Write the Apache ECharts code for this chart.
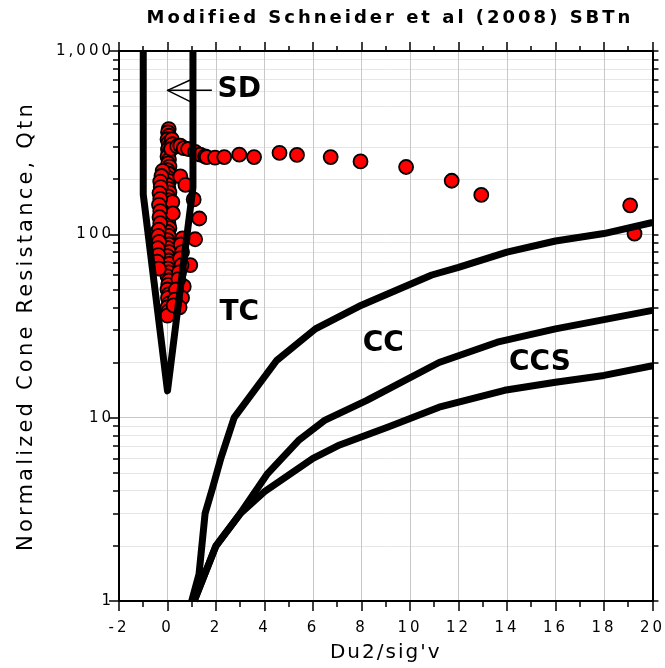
<!DOCTYPE html>
<html><head><meta charset="utf-8">
<script src="https://cdn.jsdelivr.net/npm/echarts@6/dist/echarts.min.js"></script>
<style>html,body{margin:0;padding:0;background:#fff}#c{width:665px;height:668px}</style>
</head><body><div id="c"></div>
<script>
// ---------- text ----------
const chartTitle = 'Modified Schneider et al (2008) SBTn';
const xName = "Du2/sig'v";
const yName = 'Normalized Cone Resistance, Qtn';

// ---------- axes ----------
const xMin = -2, xMax = 20, xStep = 2;
const yMin = 1, yMax = 1000;
const yMajorTicks = [1, 10, 100, 1000];
const yMinorTicks = [2, 3, 4, 5, 6, 7, 8, 9, 20, 30, 40, 50, 60, 70, 80, 90, 200, 300, 400, 500, 600, 700, 800, 900];

// ---------- data points (Du2/sig'v, Qtn) ----------
const pointsX = [
  0.05, 0.02, 0.06, 0.00, 0.04, 0.08, 0.02, 0.05, 0.00, 0.06, 0.03, 0.08, 0.00, 0.05, 0.02, 0.07, 0.00, 0.04, 0.08, 0.02,
  0.05, 0.00, 0.06, 0.03, 0.07, 0.00, 0.04, 0.08, 0.02, 0.05, 0.00, 0.06, 0.03, 0.07, 0.00, 0.04, 0.08, 0.02, 0.05, 0.00,
  0.06, 0.03, 0.00, 0.05, 0.02, 0.06, 0.00, 0.04, 0.00,
  0.18, 0.20, 0.15, 0.20, 0.22,
  -0.20, -0.25, -0.30, -0.28, -0.33, -0.30, -0.35, -0.30, -0.33, -0.30, -0.36, -0.38, -0.35, -0.40, -0.38, -0.42, -0.36,
  0.53, 0.74, 1.08, 1.31, 1.14, 0.94, 0.67, 0.60, 0.50, 0.62, 0.55, 0.60, 0.52, 0.58, 0.48, 0.45, 0.35, 0.30, 0.25,
  0.40, 0.53, 0.67, 0.85, 1.14, 1.35, 1.55, 1.62, 1.96, 2.34, 2.96, 3.57, 4.62, 5.34, 6.73, 7.96, 9.84, 11.72, 12.94, 19.08, 19.26
];
const pointsY = [
  375, 360, 345, 330, 316, 302, 290, 278, 266, 255, 244, 234, 224, 214, 204, 195, 186, 177, 169, 161,
  153, 146, 139, 132, 126, 120, 114, 108, 103, 98, 93, 88, 84, 80, 76, 72, 69, 65, 62, 59,
  56, 53, 50, 47, 45, 42, 40, 38, 36,
  330, 310, 292, 150, 130,
  222, 208, 194, 181, 168, 156, 145, 134, 124, 115, 106, 98, 91, 84, 77, 71, 65,
  207, 186, 155, 122, 94, 68, 52, 45, 40, 95, 88, 80, 74, 68, 62, 57, 50, 44, 41,
  302, 305, 295, 292, 282, 272, 266, 264, 262, 264, 272, 264, 278, 271, 264, 250, 233, 196, 164, 144, 101
];

// ---------- zone boundaries ----------
const sdX = [-1, -1, 0, 1.05, 1.05];
const sdY = [1000, 165, 14, 180, 1000];
const tcX = [1.0, 1.3, 1.55, 1.85, 2.2, 2.75, 4.5, 6.1, 7.9, 10.9, 12.0, 14.0, 16.0, 18.0, 20.0];
const tcY = [1.0, 1.4, 3.0, 4.1, 6.0, 10.0, 20.5, 30.5, 40.5, 60, 66, 80, 92, 101, 116];
const ccX = [1.1, 2.0, 3.0, 4.1, 5.4, 6.5, 8.2, 11.2, 13.6, 16.0, 20.0];
const ccY = [1.0, 2.0, 3.0, 4.9, 7.5, 9.7, 12.4, 20, 25.8, 30.5, 38.5];
const ccsX = [1.1, 2.0, 3.0, 4.0, 6.0, 7.1, 9.1, 11.2, 13.9, 16.0, 18.0, 20.0];
const ccsY = [1.0, 2.0, 3.0, 3.95, 6.0, 7.1, 8.9, 11.4, 14.1, 15.6, 17.0, 19.2];

// ---------- SD pointer arrow ----------
const arrowShaftX = [0, 1.83];
const arrowShaftY = [610, 610];
const arrowHeadX = [0.94, 0, 0.94];
const arrowHeadY = [695, 610, 530];

// ---------- zone labels ----------
const zoneNames = ['SD', 'TC', 'CC', 'CCS'];
const zoneX = [2.98, 2.98, 8.92, 15.38];
const zoneY = [610, 37, 25, 19.9];

// ---------- letter spacing like the reference ----------
const spacingByText = { [chartTitle]: '3px', [xName]: '2px', [yName]: '3.2px' };
(function () {
  const P = window.CanvasRenderingContext2D && CanvasRenderingContext2D.prototype;
  if (!P || !('letterSpacing' in P)) return;
  const orig = P.fillText;
  P.fillText = function (t, x, y, m) {
    const f = this.font || '';
    const bold = /bold|[6-9]00/.test(f);
    const sz = parseFloat((f.match(/(\d+(?:\.\d+)?)px/) || [0, 12])[1]);
    const prev = this.letterSpacing;
    let ls = spacingByText[t];
    if (!ls) ls = (bold && sz >= 24) ? '0px' : '3px';
    this.letterSpacing = ls;
    const r = m === undefined ? orig.call(this, t, x, y) : orig.call(this, t, x, y, m);
    this.letterSpacing = prev;
    return r;
  };
})();

const zip = (xs, ys) => xs.map((x, i) => [x, ys[i]]);
const FONT = 'DejaVu Sans';

const lineSeries = (xs, ys, w) => ({
  type: 'line', data: zip(xs, ys), xAxisIndex: 0, yAxisIndex: 0,
  symbol: 'none', showSymbol: false, silent: true, z: 5, clip: true,
  lineStyle: { color: '#000', width: w, join: 'round', cap: 'butt' }
});

const chart = echarts.init(document.getElementById('c'), null, { renderer: 'canvas' });
chart.setOption({
  animation: false,
  backgroundColor: '#fff',
  title: {
    text: chartTitle, left: 390, top: 9, textAlign: 'center', padding: 0,
    textStyle: { fontFamily: FONT, fontWeight: 'bold', fontSize: 18, color: '#000' }
  },
  grid: { left: 119, right: 7, top: 51, bottom: 65, containLabel: false },
  xAxis: [
    {
      type: 'value', min: xMin, max: xMax, interval: xStep, position: 'bottom',
      name: xName, nameLocation: 'middle', nameGap: 42,
      nameTextStyle: { fontFamily: FONT, fontSize: 20, color: '#000' },
      axisLine: { show: true, onZero: false, lineStyle: { color: '#000', width: 2 } },
      axisTick: { show: true, inside: false, length: 10, lineStyle: { color: '#000', width: 1.5 } },
      minorTick: { show: true, splitNumber: 2, length: 6, lineStyle: { color: '#000', width: 1.5 } },
      splitLine: { show: true, lineStyle: { color: '#c8c8c8', width: 1 } },
      axisLabel: { show: true, margin: 20, fontFamily: FONT, fontSize: 15, color: '#000' }
    },
    {
      type: 'value', min: xMin, max: xMax, interval: xStep, position: 'top',
      axisLine: { show: true, onZero: false, lineStyle: { color: '#000', width: 2 } },
      axisTick: { show: true, inside: false, length: 9, lineStyle: { color: '#000', width: 1.5 } },
      minorTick: { show: true, splitNumber: 2, length: 5, lineStyle: { color: '#000', width: 1.5 } },
      splitLine: { show: false }, axisLabel: { show: false }
    }
  ],
  yAxis: [
    {
      type: 'log', logBase: 10, min: yMin, max: yMax, position: 'left',
      name: yName, nameLocation: 'middle', nameGap: 82,
      nameTextStyle: { fontFamily: FONT, fontSize: 21, color: '#000' },
      axisLine: { show: true, onZero: false, lineStyle: { color: '#000', width: 2 } },
      axisTick: { show: true, inside: false, length: 10, customValues: yMajorTicks, lineStyle: { color: '#000', width: 1.5 } },
      splitLine: { show: true, lineStyle: { color: '#c8c8c8', width: 1 } },
      axisLabel: {
        show: true, margin: 5, customValues: yMajorTicks, fontFamily: FONT, fontSize: 15, color: '#000',
        formatter: v => Number(v).toLocaleString('en-US')
      }
    },
    {
      type: 'log', logBase: 10, min: yMin, max: yMax, position: 'left',
      axisLine: { show: false, onZero: false },
      axisTick: { show: true, inside: false, length: 6, customValues: yMinorTicks, lineStyle: { color: '#000', width: 1.5 } },
      splitLine: { show: true, lineStyle: { color: '#e6e6e6', width: 1 } },
      axisLabel: { show: false }
    },
    {
      type: 'log', logBase: 10, min: yMin, max: yMax, position: 'right',
      axisLine: { show: true, onZero: false, lineStyle: { color: '#000', width: 2 } },
      axisTick: { show: true, inside: false, length: 6, customValues: yMinorTicks.concat(yMajorTicks), lineStyle: { color: '#000', width: 1.5 } },
      splitLine: { show: false }, axisLabel: { show: false }
    }
  ],
  series: [
    {
      type: 'scatter', data: zip(pointsX, pointsY), xAxisIndex: 0, yAxisIndex: 0,
      symbol: 'circle', symbolSize: 14, z: 3, silent: true,
      itemStyle: { color: '#ff0000', borderColor: '#000', borderWidth: 1.8, opacity: 1 }
    },
    lineSeries(sdX, sdY, 7),
    lineSeries(tcX, tcY, 7),
    lineSeries(ccX, ccY, 7),
    lineSeries(ccsX, ccsY, 7),
    lineSeries(arrowShaftX, arrowShaftY, 1.5),
    lineSeries(arrowHeadX, arrowHeadY, 1.5),
    {
      type: 'scatter', xAxisIndex: 0, yAxisIndex: 0, symbolSize: 1, silent: true, z: 6,
      itemStyle: { opacity: 1, color: 'rgba(0,0,0,0)' },
      data: zoneNames.map((n, i) => ({ name: n, value: [zoneX[i], zoneY[i]] })),
      label: {
        show: true, position: [0, 0], align: 'center', verticalAlign: 'middle', formatter: p => p.name,
        fontFamily: FONT, fontWeight: 'bold', fontSize: 28, color: '#000', opacity: 1
      }
    }
  ]
});
</script>
</body></html>
